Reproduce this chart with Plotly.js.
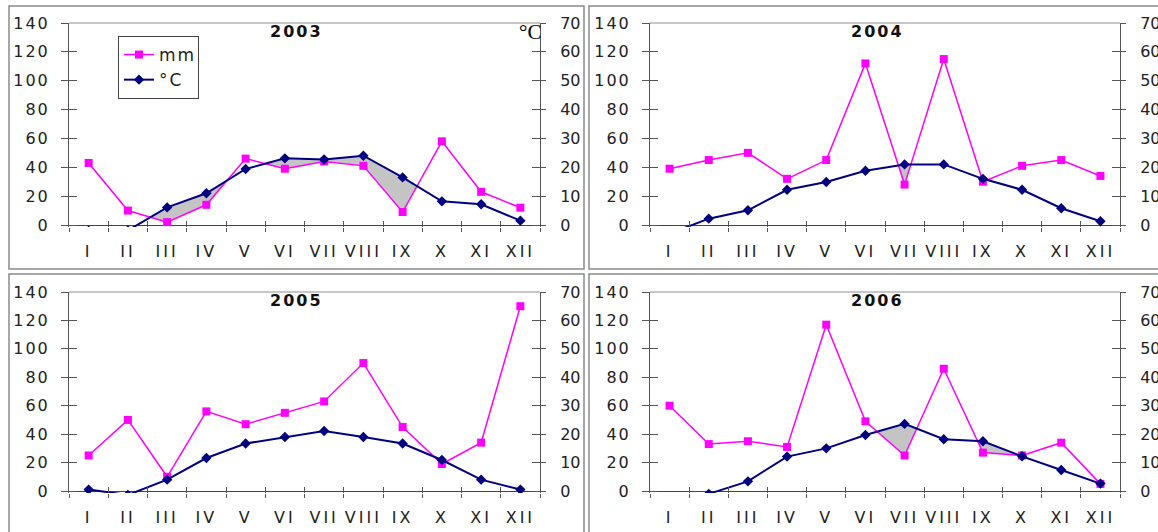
<!DOCTYPE html>
<html>
<head>
<meta charset="utf-8">
<script src="https://cdn.plot.ly/plotly-3.0.1.min.js"></script>
<style>
html,body{margin:0;padding:0;background:#fff;}
#chart{width:1158px;height:532px;}
#chart .xaxislayer-above text{letter-spacing:3px;}
#chart .yaxislayer-above text{letter-spacing:2px;}
#chart .legendtext{letter-spacing:2px;}
#chart .yeartitle{letter-spacing:2px;}
</style>
</head>
<body>
<div id="chart"></div>
<script>
// ---- data ----
const months = ['I','II','III','IV','V','VI','VII','VIII','IX','X','XI','XII'];
const years = ['2003','2004','2005','2006'];
const precip2003 = [43, 10, 2, 14, 46, 39, 44, 41, 9, 58, 23, 12];
const temp2003   = [-2, -1.9, 6.1, 11, 19.4, 23.1, 22.7, 24, 16.5, 8.2, 7.2, 1.5];
const precip2004 = [39, 45, 50, 32, 45, 112, 28, 115, 30, 41, 45, 34];
const temp2004   = [-3, 2.2, 5.1, 12.2, 14.9, 18.8, 21, 21, 16, 12.2, 5.8, 1.3];
const precip2005 = [25, 50, 10, 56, 47, 55, 63, 90, 45, 19, 34, 130];
const temp2005   = [0.5, -1.4, 4, 11.6, 16.7, 19, 21.1, 19, 16.7, 10.9, 4, 0.5];
const precip2006 = [60, 33, 35, 31, 117, 49, 25, 86, 27, 25, 34, 5];
const temp2006   = [-3, -1, 3.4, 12.1, 15, 19.7, 23.6, 18.2, 17.5, 12.2, 7.4, 2.6];
const mmTicks = [0, 20, 40, 60, 80, 100, 120, 140];
const cTicks  = [0, 10, 20, 30, 40, 50, 60, 70];

const precipByYear = [precip2003, precip2004, precip2005, precip2006];
const tempByYear   = [temp2003, temp2004, temp2005, temp2006];

// ---- layout geometry (pixels) ----
const W = 1158, H = 532;
const panels = [
  {x0: 69,  x1: 540,  top: 23,  zero: 225, box: [9, 584, 6, 269]},
  {x0: 650, x1: 1120, top: 23,  zero: 225, box: [589, 1162, 6, 269]},
  {x0: 69,  x1: 540,  top: 292, zero: 491, box: [9, 584, 274, 540]},
  {x0: 650, x1: 1120, top: 292, zero: 491, box: [589, 1162, 274, 540]}
];
const YMIN = -1.4, YMAX = 140;
const FONT = 'DejaVu Sans, Liberation Sans, Arial, sans-serif';
const PINK = '#ff00ff', NAVY = '#000080', AXC = '#555555';

const xpos = months.map((m, i) => i + 1);
const bounds = [0.5].concat(months.map((m, i) => i + 1.5));

function ax(n) { return n === 1 ? '' : String(n); }

// region where temperature curve (scaled x2) lies above precipitation
function dryFill(P, T) {
  const xs = [], lo = [], hi = [];
  for (let i = 0; i < P.length; i++) {
    const d = 2 * T[i] - P[i];
    xs.push(i + 1); lo.push(P[i]); hi.push(Math.max(P[i], 2 * T[i]));
    if (i < P.length - 1) {
      const d2 = 2 * T[i + 1] - P[i + 1];
      if (d * d2 < 0) {
        const f = d / (d - d2);
        const p = P[i] + f * (P[i + 1] - P[i]);
        xs.push(i + 1 + f); lo.push(p); hi.push(p);
      }
    }
  }
  return {xs, lo, hi};
}

const traces = [];
const layout = {
  width: W, height: H,
  margin: {l: 0, r: 0, t: 0, b: 0},
  paper_bgcolor: '#ffffff', plot_bgcolor: 'rgba(0,0,0,0)',
  font: {family: FONT, size: 16, color: '#222222'},
  showlegend: true,
  hovermode: false,
  legend: {
    x: 118 / W, y: 1 - 36 / H, xanchor: 'left', yanchor: 'top',
    bgcolor: '#ffffff', bordercolor: '#444444', borderwidth: 1,
    font: {family: FONT, size: 17, color: '#222222'},
    itemwidth: 30, tracegroupgap: 0, traceorder: 'normal'
  },
  shapes: [], annotations: []
};

panels.forEach((pn, k) => {
  const mx = k + 1, ix = k + 5;           // main x / inner-tick x
  const my = k + 1, ry = k + 5, il = k + 9, ir = k + 13;
  const scale = (pn.zero - pn.top) / 140;
  const bottom = pn.zero - YMIN * scale;
  const dom = [pn.x0 / W, pn.x1 / W];
  const ydom = [1 - bottom / H, 1 - pn.top / H];
  const X = 'x' + ax(mx), XI = 'x' + ax(ix);
  const Y = 'y' + ax(my), YR = 'y' + ax(ry), YL = 'y' + ax(il), YRI = 'y' + ax(ir);

  const P = precipByYear[k], T = tempByYear[k];
  const f = dryFill(P, T);
  traces.push({x: f.xs, y: f.lo, xaxis: X, yaxis: Y, mode: 'lines',
    line: {width: 0, color: 'rgba(0,0,0,0)'}, showlegend: false, hoverinfo: 'skip'});
  traces.push({x: f.xs, y: f.hi, xaxis: X, yaxis: Y, mode: 'lines', fill: 'tonexty',
    fillcolor: '#c4c4c4', line: {width: 0, color: 'rgba(0,0,0,0)'}, showlegend: false, hoverinfo: 'skip'});
  traces.push({x: xpos, y: P, xaxis: X, yaxis: Y, mode: 'lines+markers', name: 'mm',
    line: {color: PINK, width: 1.5}, marker: {symbol: 'square', size: 8, color: PINK},
    showlegend: k === 0, legendrank: 1, cliponaxis: true});
  traces.push({x: xpos, y: T, xaxis: X, yaxis: YR, mode: 'lines+markers', name: '°C',
    line: {color: NAVY, width: 2}, marker: {symbol: 'diamond', size: 8, color: NAVY},
    showlegend: k === 0, legendrank: 2, cliponaxis: true});
  // helper traces so the tick-only overlay axes are drawn
  traces.push({x: [null], y: [null], xaxis: XI, yaxis: Y, showlegend: false, hoverinfo: 'skip'});
  traces.push({x: [null], y: [null], xaxis: X, yaxis: YL, showlegend: false, hoverinfo: 'skip'});
  traces.push({x: [null], y: [null], xaxis: X, yaxis: YRI, showlegend: false, hoverinfo: 'skip'});

  layout['xaxis' + ax(mx)] = {
    domain: dom, range: [0.5, 12.5], anchor: Y, fixedrange: true,
    tickmode: 'array', tickvals: xpos, ticktext: months, ticks: '',
    showline: false, showgrid: false, zeroline: false,
    ticklabelstandoff: 13,
    tickfont: {family: FONT, size: 16, color: '#222222'},
    minor: {tickmode: 'array', tickvals: bounds, ticks: 'outside', ticklen: 4,
            tickwidth: 1, tickcolor: AXC, showgrid: false}
  };
  layout['xaxis' + ax(ix)] = {
    domain: dom, range: [0.5, 12.5], anchor: Y, overlaying: X, fixedrange: true,
    tickmode: 'array', tickvals: bounds, ticks: 'inside', ticklen: 6, tickwidth: 1,
    tickcolor: AXC, showticklabels: false, showline: false, showgrid: false, zeroline: false
  };
  layout['yaxis' + ax(my)] = {
    domain: ydom, range: [YMIN, YMAX], anchor: X, fixedrange: true,
    tickmode: 'array', tickvals: mmTicks, ticks: 'outside', ticklen: 7, tickwidth: 1,
    tickcolor: AXC, showline: true, linecolor: AXC, linewidth: 1,
    zeroline: true, zerolinecolor: '#444444', zerolinewidth: 1, showgrid: false,
    ticklabelstandoff: 8,
    tickfont: {family: FONT, size: 16, color: '#222222'}
  };
  layout['yaxis' + ax(ry)] = {
    range: [YMIN / 2, YMAX / 2], anchor: X, overlaying: Y, side: 'right', fixedrange: true,
    tickmode: 'array', tickvals: cTicks, ticks: 'outside', ticklen: 5, tickwidth: 1,
    tickcolor: AXC, showline: true, linecolor: AXC, linewidth: 1,
    zeroline: false, showgrid: false, ticklabelstandoff: 11,
    tickfont: {family: FONT, size: 16, color: '#222222'}
  };
  layout['yaxis' + ax(il)] = {
    range: [YMIN, YMAX], anchor: X, overlaying: Y, side: 'left', fixedrange: true,
    tickmode: 'array', tickvals: mmTicks, ticks: 'inside', ticklen: 8, tickwidth: 1,
    tickcolor: AXC, showticklabels: false, showline: false, zeroline: false, showgrid: false
  };
  layout['yaxis' + ax(ir)] = {
    range: [YMIN, YMAX], anchor: X, overlaying: Y, side: 'right', fixedrange: true,
    tickmode: 'array', tickvals: mmTicks, ticks: 'inside', ticklen: 8, tickwidth: 1,
    tickcolor: AXC, showticklabels: false, showline: false, zeroline: false, showgrid: false
  };

  // top edge of plot area
  layout.shapes.push({type: 'line', xref: X + ' domain', yref: Y + ' domain',
    x0: 0, x1: 1, y0: 1, y1: 1, line: {color: '#b4b4b4', width: 1.5}, layer: 'below'});
  // panel frame
  const b = pn.box;
  layout.shapes.push({type: 'rect', xref: 'paper', yref: 'paper',
    x0: b[0] / W, x1: b[1] / W, y0: 1 - b[3] / H, y1: 1 - b[2] / H,
    line: {color: '#8a8a8a', width: 1.5}, fillcolor: 'rgba(0,0,0,0)', layer: 'below'});
  // panel title
  layout.annotations.push({xref: X + ' domain', yref: Y + ' domain', x: 0.483, y: 0.96,
    text: '<b><span class="yeartitle">' + years[k] + '</span></b>', showarrow: false,
    xanchor: 'center', yanchor: 'middle',
    font: {family: FONT, size: 16, color: '#111111'}});
});

layout.annotations.push({xref: 'paper', yref: 'paper', x: 530 / W, y: 1 - 32 / H,
  text: '°C', showarrow: false, xanchor: 'center', yanchor: 'middle',
  font: {family: 'Liberation Serif, Times New Roman, serif', size: 21, color: '#000000'}});

Plotly.newPlot('chart', traces, layout, {staticPlot: true, displayModeBar: false}).then(() => {
  document.querySelectorAll('#chart .annotation-text').forEach(t => {
    if (/^\d{4}$/.test(t.textContent)) t.style.letterSpacing = '2px';
  });
});
</script>
</body>
</html>
